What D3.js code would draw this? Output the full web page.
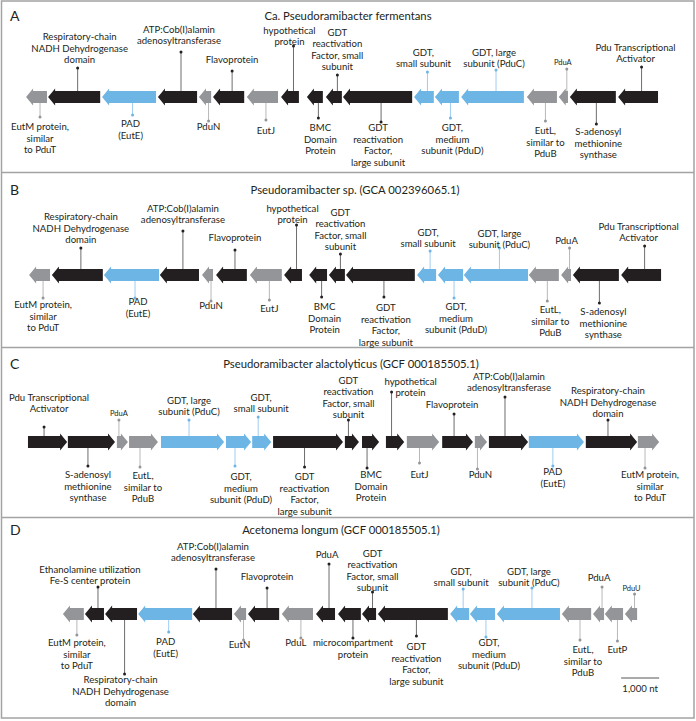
<!DOCTYPE html>
<html><head><meta charset="utf-8">
<script src="https://cdn.jsdelivr.net/npm/d3@7"></script>
<style>body{margin:0;background:#fff}svg{display:block}</style>
</head><body>
<svg id="chart" width="696" height="721"></svg>
<script>
// ---------- DATA (nucleotide coordinates, gene class, label text) ----------
const titles = ["Ca. Pseudoramibacter fermentans","Pseudoramibacter sp. (GCA 002396065.1)","Pseudoramibacter alactolyticus (GCF 000185505.1)","Acetonema longum (GCF 000185505.1)"];
const letters = ["A","B","C","D"];
const directions = [-1,-1,1,-1];

const classA = ["g","k","b","k","g","k","g","k","k","k","k","b","b","b","g","g","k","k"];
const startA = [160,740,2160,3630,4710,5080,5970,6870,7550,8050,8500,10370,10920,11610,13340,14180,14470,15740];
const endA   = [710,2110,3580,4660,5030,5900,6790,7340,7970,8470,10320,10890,11550,13260,14130,14420,15680,16790];

const classB = classA.slice();
const startB = [240,840,2210,3680,4790,5160,6050,6950,7610,8130,8580,10450,11000,11680,13390,14240,14550,15820];
const endB   = [790,2180,3660,4710,5080,5970,6890,7420,8080,8550,10390,10950,11660,13370,14180,14500,15760,16870];

const classC = ["k","k","g","g","b","b","b","k","k","k","k","g","k","g","k","b","k","g"];
const startC = [210,1260,2550,2870,3710,5420,6110,6660,8550,9000,9630,10180,11110,11970,12340,13390,14890,16260];
const endC   = [1240,2500,2840,3630,5370,6080,6610,8500,8920,9450,10110,11030,11920,12290,13370,14840,16240,16820];

const classD = ["g","k","k","b","k","g","k","g","k","k","k","k","b","b","b","g","g","g","g"];
const startD = [1130,1710,2240,3110,4550,5630,6000,6890,7790,8370,9000,9420,11320,11840,12550,14260,15080,15390,15920];
const endD   = [1680,2210,3080,4530,5580,5950,6820,7710,8290,8970,9370,11260,11820,12500,14210,15030,15370,15870,16240];

const labelsA = [
 ["EutM protein,","similar","to PduT"],["Respiratory-chain","NADH Dehydrogenase","domain"],["PAD","(EutE)"],
 ["ATP:Cob(I)alamin","adenosyltransferase"],["PduN"],["Flavoprotein"],["EutJ"],["hypothetical","protein"],
 ["BMC","Domain","Protein"],["GDT","reactivation","Factor, small","subunit"],["GDT","reactivation","Factor,","large subunit"],
 ["GDT,","small subunit"],["GDT,","medium","subunit (PduD)"],["GDT, large","subunit (PduC)"],["EutL,","similar to","PduB"],
 ["PduA"],["S-adenosyl","methionine","synthase"],["Pdu Transcriptional","Activator"]];
const labelsB = labelsA.slice();
const labelsC = [
 ["Pdu Transcriptional","Activator"],["S-adenosyl","methionine","synthase"],["PduA"],["EutL,","similar to","PduB"],
 ["GDT, large","subunit (PduC)"],["GDT,","medium","subunit (PduD)"],["GDT,","small subunit"],
 ["GDT","reactivation","Factor,","large subunit"],["GDT","reactivation","Factor, small","subunit"],["BMC","Domain","Protein"],
 ["hypothetical","protein"],["EutJ"],["Flavoprotein"],["PduN"],["ATP:Cob(I)alamin","adenosyltransferase"],["PAD","(EutE)"],
 ["Respiratory-chain","NADH Dehydrogenase","domain"],["EutM protein,","similar","to PduT"]];
const labelsD = [
 ["EutM protein,","similar","to PduT"],["Ethanolamine utilization","Fe-S center protein"],["Respiratory-chain","NADH Dehydrogenase","domain"],
 ["PAD","(EutE)"],["ATP:Cob(I)alamin","adenosyltransferase"],["EutN"],["Flavoprotein"],["PduL"],["PduA"],
 ["microcompartment","protein"],["GDT","reactivation","Factor, small","subunit"],["GDT","reactivation","Factor,","large subunit"],
 ["GDT,","small subunit"],["GDT,","medium","subunit (PduD)"],["GDT, large","subunit (PduC)"],["EutL,","similar to","PduB"],
 ["PduA"],["EutP"],["PduU"]];

const scaleBarNt = 1000;
const scaleBarStart = 15820;
const scaleBarLabel = "1,000 nt";

// ---------- LAYOUT (label leader offsets: dot dy, text dy, text dx, small font) ----------
const layA = [[20,30,0],[-29,-37,2],[18,27,-2],[-45,-56,-2],[24,30,0],[-26,-37,0],[23,34,0],[-51,-55,-4],[21,31,2],[-22,-30,0],[25,31,-3],[-25,-33,-4],[21,31,2],[-27,-33,-2],[24,34,0],[-28,-35,-4,1],[27,35,2],[-30,-38,-6]];
const layB = [[23,30,0],[-27,-35,0],[23,27,3],[-44,-55,0],[26,31,0],[-25,-37,0],[25,34,0],[-50,-55,-4],[22,32,3],[-21,-28,0],[22,33,2],[-24,-31,-2],[23,32,2],[-27,-30,0],[26,35,3],[-27,-34,-3],[28,37,4],[-29,-37,-6]];
const layC = [[-15,-33,5],[24,33,0],[-22,-29,0,1],[25,34,3],[-22,-30,0],[24,35,6],[-25,-33,3],[25,35,0],[-22,-27,0],[26,33,4],[-50,-49,19],[21,33,0],[-28,-37,-2],[27,33,3],[-45,-54,4],[24,30,0],[-22,-28,0],[26,33,5]];
const layD = [[21,29,0],[-27,-33,-8],[60,66,-4],[18,28,-3],[-45,-56,-3],[26,31,-4],[-26,-37,0],[24,29,-5],[-50,-59,-2],[24,29,0],[-22,-26,0],[22,33,0],[-25,-31,-2],[23,29,3],[-26,-31,-3],[26,36,3],[-27,-36,-3],[27,36,0],[-20,-26,-3,1]];

const panelGeom = [ {top:1, cy:97, ty:16, tx:348}, {top:172.5, cy:275, ty:190, tx:355},
                    {top:347.5, cy:442, ty:364, tx:351}, {top:517.5, cy:614, ty:530, tx:341} ];

// ---------- RENDER ----------
const fill = {k:"#231f20", g:"#939598", b:"#6cb5e5"};
const lineCol = {k:"#6d6d6d", g:"#b8b8b8", b:"#9fcdef"};
const dotCol = {k:"#231f20", g:"#939598", b:"#6cb5e5"};
const FONT = "Lato, 'Open Sans', sans-serif";
const textCol = "#231f20";

const x = d3.scaleLinear().domain([0, 17500]).range([20, 20 + 17500 * 0.038]);
const svg = d3.select("#chart");

const sets = [
 {cls:classA, s:startA, e:endA, lab:labelsA, lay:layA},
 {cls:classB, s:startB, e:endB, lab:labelsB, lay:layB},
 {cls:classC, s:startC, e:endC, lab:labelsC, lay:layC},
 {cls:classD, s:startD, e:endD, lab:labelsD, lay:layD}];

// frame
svg.append("rect").attr("x",1.5).attr("y",1).attr("width",692.5).attr("height",717)
  .attr("fill","none").attr("stroke","#a3a3a3").attr("stroke-width",1.5);
panelGeom.slice(1).forEach(p=>{
  svg.append("line").attr("x1",1.5).attr("x2",694).attr("y1",p.top).attr("y2",p.top)
    .attr("stroke","#a3a3a3").attr("stroke-width",1.5);
});

const LH = 11.5, BH = 6, HH = 8.5, HL = 7;
const line = d3.line();

sets.forEach((set, pi) => {
  const g = svg.append("g");
  const geo = panelGeom[pi], cy = geo.cy, dir = directions[pi];
  g.append("text").attr("x",10).attr("y",geo.ty).attr("dy","0.35em")
    .attr("font-family",FONT).attr("font-size",14).attr("fill",textCol).text(letters[pi]);
  g.append("text").attr("x",geo.tx).attr("y",geo.ty).attr("dy","0.35em").attr("text-anchor","middle")
    .attr("font-family",FONT).attr("font-size",11.3).attr("fill",textCol).text(titles[pi]);

  const genes = set.s.map((s,i)=>({s, e:set.e[i], c:set.cls[i], lab:set.lab[i], lay:set.lay[i]}));
  genes.forEach(d=>{
    const x0 = x(d.s), x1 = x(d.e), h = Math.min(HL, (x1-x0)*0.75);
    d.x0 = x0; d.x1 = x1; d.h = h;
    d.bc = dir < 0 ? (x0 + h + x1)/2 : (x0 + x1 - h)/2;
  });
  // leaders
  genes.forEach(d=>{
    const dy = d.lay[0];
    g.append("line").attr("x1",d.bc).attr("x2",d.bc).attr("y1",cy).attr("y2",cy+dy)
      .attr("stroke",lineCol[d.c]).attr("stroke-width",1);
    g.append("circle").attr("cx",d.bc).attr("cy",cy+dy).attr("r",1.5).attr("fill",dotCol[d.c]);
  });
  // arrows
  genes.forEach(d=>{
    const {x0,x1,h} = d;
    const pts = dir < 0
      ? [[x0,cy],[x0+h,cy-HH],[x0+h,cy-BH],[x1,cy-BH],[x1,cy+BH],[x0+h,cy+BH],[x0+h,cy+HH]]
      : [[x1,cy],[x1-h,cy-HH],[x1-h,cy-BH],[x0,cy-BH],[x0,cy+BH],[x1-h,cy+BH],[x1-h,cy+HH]];
    g.append("path").attr("d", line(pts) + "Z").attr("fill", fill[d.c]);
  });
  // labels
  genes.forEach(d=>{
    const [dd, t, tx, small] = d.lay;
    const n = d.lab.length;
    d.lab.forEach((txt, i)=>{
      const y = dd > 0 ? cy + t + i*LH : cy + t - (n-1-i)*LH;
      g.append("text").attr("x", d.bc + tx).attr("y", y).attr("dy","0.35em")
        .attr("text-anchor","middle").attr("font-family",FONT)
        .attr("font-size", small ? 7.5 : 9.6).attr("fill",textCol).text(txt);
    });
  });
  if (pi === 3) {
    const sx0 = x(scaleBarStart), sx1 = x(scaleBarStart + scaleBarNt);
    g.append("line").attr("x1",sx0).attr("x2",sx1).attr("y1",678).attr("y2",678)
      .attr("stroke","#555").attr("stroke-width",1);
    g.append("text").attr("x",(sx0+sx1)/2).attr("y",689).attr("dy","0.35em").attr("text-anchor","middle")
      .attr("font-family",FONT).attr("font-size",9.6).attr("fill",textCol).text(scaleBarLabel);
  }
});
</script>
</body></html>
